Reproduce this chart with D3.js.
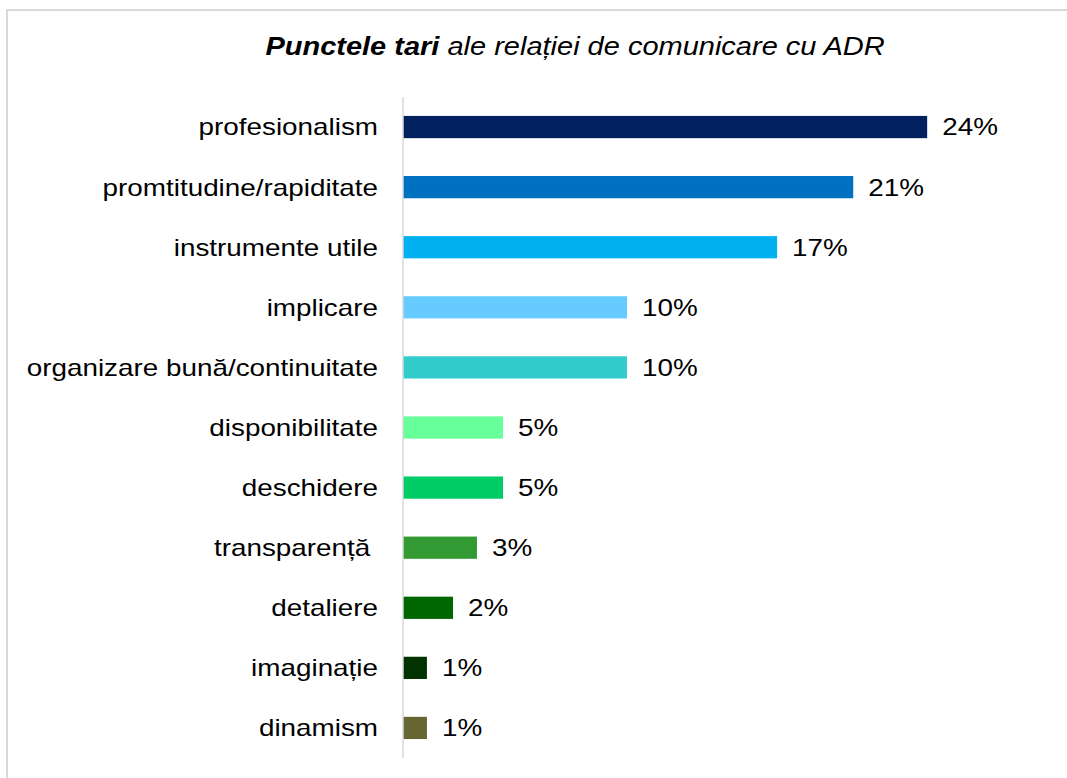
<!DOCTYPE html>
<html>
<head>
<meta charset="utf-8">
<script src="https://cdn.jsdelivr.net/npm/d3@7"></script>
<style>
  body { margin: 0; background: #fff; }
  text { font-family: "Liberation Sans", Arial, sans-serif; fill: #000; }
</style>
</head>
<body>
<div id="chart"></div>
<script>
const categories = [
    "profesionalism",
    "promtitudine/rapiditate",
    "instrumente utile",
    "implicare",
    "organizare bună/continuitate",
    "disponibilitate",
    "deschidere",
    "transparență ",
    "detaliere",
    "imaginație",
    "dinamism"
];
const values = [24.1, 20.7, 17.2, 10.3, 10.3, 4.6, 4.6, 3.4, 2.3, 1.1, 1.1];
const colors = ["#002060", "#0070C0", "#00B0F0", "#66CCFF", "#33CCCC", "#66FF99",
    "#00CC66", "#339933", "#006600", "#003300", "#666633"];

const width = 1067;
const height = 778;
const stretch = 1.16; // text in the picture is a little wide

const svg = d3.select("#chart")
    .append("svg")
    .attr("width", width)
    .attr("height", height);

// frame (only top and left edges are visible)
svg.append("path")
    .attr("d", "M7,778 V10 H1067")
    .attr("fill", "none")
    .attr("stroke", "#d9d9d9")
    .attr("stroke-width", 2);

// title
const title = svg.append("g")
    .attr("transform", "translate(575,55)")
    .append("text")
    .attr("text-anchor", "middle")
    .attr("font-size", 25)
    .attr("font-style", "italic")
    .attr("transform", `scale(${stretch},1)`);
title.append("tspan").attr("font-weight", "bold").text("Punctele tari");
title.append("tspan").text(" ale relației de comunicare cu ADR");

const x = d3.scaleLinear().domain([0, 26]).range([403, 403 + 26 * 21.75]);
const y = d3.scaleBand().domain(categories).range([97, 758]).paddingInner(0.63).paddingOuter(0.315);

const rows = categories.map((c, i) => ({ name: c, value: values[i], color: colors[i] }));

svg.append("g")
    .selectAll("rect")
    .data(rows)
    .enter().append("rect")
    .attr("x", x(0))
    .attr("y", d => y(d.name))
    .attr("width", d => x(d.value) - x(0))
    .attr("height", y.bandwidth())
    .attr("fill", d => d.color);

// axis line
svg.append("line")
    .attr("x1", x(0)).attr("x2", x(0))
    .attr("y1", 97).attr("y2", 758)
    .attr("stroke", "#d9d9d9")
    .attr("stroke-width", 1.5);

// category labels
svg.append("g")
    .selectAll("g")
    .data(rows)
    .enter().append("g")
    .attr("transform", d => `translate(${x(0) - 25},${y(d.name) + y.bandwidth() / 2})`)
    .append("text")
    .attr("transform", `scale(${stretch},1)`)
    .attr("text-anchor", "end")
    .attr("dy", "0.35em")
    .attr("font-size", 24)
    .style("white-space", "pre")
    .text(d => d.name);

// value labels
svg.append("g")
    .selectAll("g")
    .data(rows)
    .enter().append("g")
    .attr("transform", d => `translate(${x(d.value) + 15},${y(d.name) + y.bandwidth() / 2})`)
    .append("text")
    .attr("transform", `scale(${stretch},1)`)
    .attr("dy", "0.35em")
    .attr("font-size", 24)
    .text(d => Math.round(d.value) + "%");
</script>
</body>
</html>
